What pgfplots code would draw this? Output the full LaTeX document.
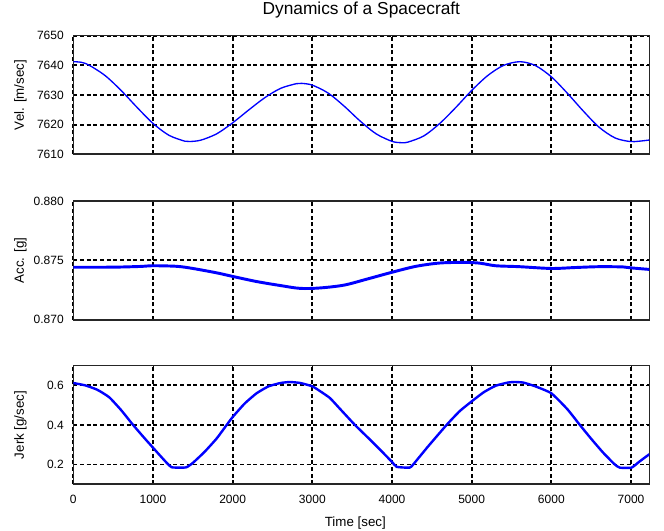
\documentclass[border=0pt]{standalone}
\usepackage{fontspec}
\setmainfont{Liberation Sans}
\usepackage{pgfplots}
\pgfplotsset{compat=1.18}

\definecolor{mblue}{RGB}{0,0,255}

\pgfplotsset{
  panel/.style={
    scale only axis, width=432pt, height=89pt,
    anchor=south west,
    xmin=0, xmax=7230,
    xtick={0,1000,...,7000},
    xticklabels={},
    grid=major,
    major grid style={black, line width=1.4pt, dash pattern=on 3pt off 2pt},
    axis line style={black!85, line width=1.2pt},
    tick style={black, line width=0.7pt},
    major tick length=2.5pt,
    tick align=inside,
    scaled ticks=false,
    ticklabel style={font=\fontsize{9}{9}\selectfont, inner sep=0pt},
    yticklabel style={xshift=-7pt},
    xticklabel style={yshift=-8pt},
    label style={font=\fontsize{11.5}{12}\selectfont},
    every axis y label/.style={at={([xshift=-37.1pt]axis description cs:0,0.5)}, rotate=90, anchor=base},
    every axis x label/.style={at={([xshift=-4.5pt,yshift=-31.8pt]axis description cs:0.5,0)}, anchor=base},
  }
}

\begin{document}
\begin{tikzpicture}
\useasboundingbox (0,0) rectangle (498pt,-398.25pt);

% velocity
\begin{axis}[panel, at={(55pt,-115.7pt)},
  ymin=7610, ymax=7650,
  ytick={7610,7620,7630,7640,7650},
  yticklabels={7610,7620,7630,7640,7650},
  ylabel={Vel. [m/sec]},
  title={Dynamics of a Spacecraft},
  title style={font=\fontsize{13}{14}\selectfont, at={([yshift=9.75pt]axis description cs:0.5,1)}, anchor=base},
]
\addplot[mblue, line width=1pt, smooth, tension=0.5] coordinates {
(0,7641.2) (100,7641.0) (200,7640.0) (400,7636.5) (600,7631.5) (800,7625.8)
(1000,7620.4) (1200,7616.4) (1400,7614.4) (1464,7614.3) (1600,7614.75)
(1800,7616.9) (2000,7620.6) (2200,7624.9) (2400,7629.0) (2600,7632.2)
(2800,7633.8) (2866,7633.9) (3000,7633.3) (3200,7630.6) (3400,7626.2)
(3600,7621.2) (3800,7616.9) (4000,7614.35) (4120,7613.9) (4200,7614.1)
(4400,7616.2) (4600,7620.4) (4800,7625.75) (5000,7631.5) (5200,7636.5)
(5400,7639.95) (5605,7641.2) (5800,7639.9) (6000,7636.1) (6200,7630.6)
(6400,7624.6) (6600,7619.1) (6800,7615.5) (6985,7614.3) (7100,7614.4)
(7230,7614.8)
};
\end{axis}

% acceleration
\begin{axis}[panel, at={(55pt,-239.8pt)},
  ymin=0.870, ymax=0.880,
  ytick={0.870,0.875,0.880},
  yticklabels={0.870,0.875,0.880},
  ylabel={Acc. [g]},
]
\addplot[mblue, line width=2.2pt, smooth, tension=0.5] coordinates {
(0,0.87442) (500,0.87443) (840,0.87449) (1000,0.87455) (1300,0.87450)
(1500,0.87432) (1800,0.87395) (2000,0.87365) (2300,0.87322) (2600,0.87288)
(2850,0.87264) (3100,0.87268) (3400,0.87292) (3700,0.87345) (4000,0.87400)
(4300,0.87450) (4600,0.87478) (4900,0.87483) (5100,0.87477) (5300,0.87455)
(5600,0.87447) (6000,0.87432) (6300,0.87440) (6600,0.87447) (6900,0.87445)
(7000,0.87437) (7230,0.87424)
};
\end{axis}

% jerk
\begin{axis}[panel, at={(55pt,-363.2pt)},
  ymin=0.1, ymax=0.7,
  ytick={0.2,0.4,0.6},
  yticklabels={0.2,0.4,0.6},
  xticklabels={0,1000,2000,3000,4000,5000,6000,7000},
  ylabel={Jerk [g/sec]},
  xlabel={Time [sec]},
]
\addplot[mblue, line width=1.8pt, smooth, tension=0.3] coordinates {
(0,0.612) (150,0.600) (300,0.578) (450,0.540) (600,0.475) (750,0.400)
(900,0.330) (1000,0.285) (1100,0.240) (1180,0.205) (1234,0.186)
(1340,0.184) (1420,0.186) (1500,0.208) (1650,0.265) (1800,0.332)
(1925,0.400) (2000,0.440) (2150,0.508) (2300,0.560) (2450,0.595)
(2600,0.612) (2719,0.617) (2850,0.612) (3000,0.595) (3100,0.570)
(3221,0.536) (3350,0.480) (3535,0.400) (3700,0.335) (3850,0.275)
(4000,0.213) (4060,0.188) (4220,0.184) (4266,0.200) (4450,0.290)
(4685,0.400) (4850,0.470) (5000,0.519) (5150,0.565) (5300,0.598)
(5450,0.614) (5542,0.617) (5650,0.614) (5800,0.595) (6000,0.560)
(6200,0.480) (6358,0.400) (6500,0.330) (6650,0.260) (6797,0.200)
(6860,0.184) (7006,0.184) (7100,0.213) (7230,0.252)
};
\end{axis}
\end{tikzpicture}
\end{document}
